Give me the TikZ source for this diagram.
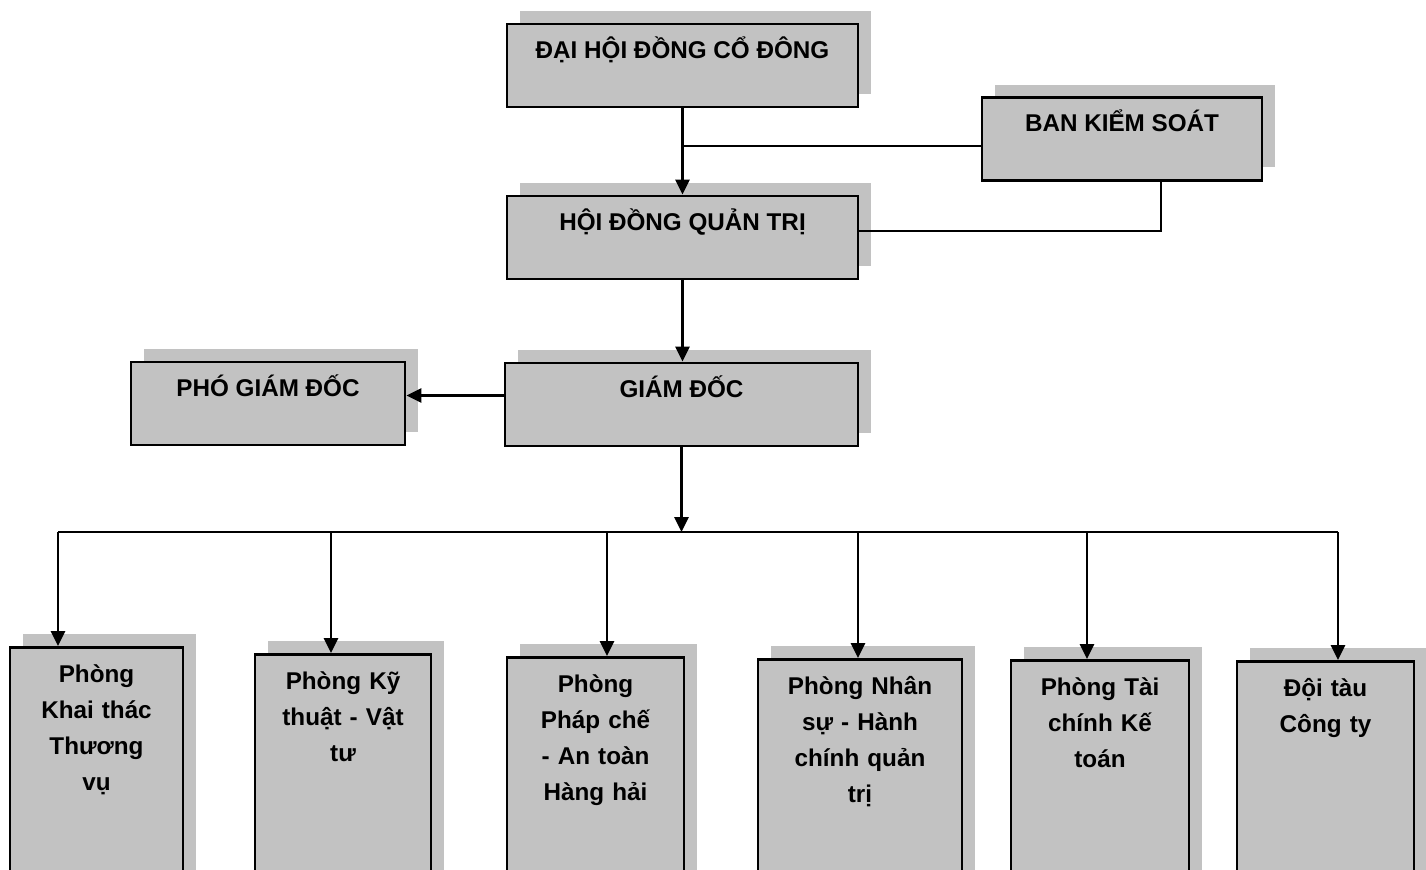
\documentclass[tikz,border=0pt]{standalone}
\usepackage{fontspec}
\setmainfont{Liberation Sans}
\usepackage{xcolor}
\usetikzlibrary{arrows.meta,shadows}

\definecolor{boxgray}{gray}{0.76}

\tikzset{
  box/.style={draw, line width=1.6pt, fill=boxgray, inner xsep=0pt, inner ysep=0pt,
    font=\fontsize{13.8}{20.5}\selectfont\bfseries, align=center,
    drop shadow={shadow xshift=0.26cm, shadow yshift=0.26cm, fill=boxgray, opacity=1}},
  topbox/.style={box, text height=0.68cm, text depth=0.98cm},
  deptbox/.style={box, anchor=north, text width=#1, text height=0.7cm, text depth=6cm},
  link/.style={line width=1.6pt},
  arr/.style={link, -{Triangle[length=0.3cm,width=0.28cm]}}
}

\begin{document}
\begin{tikzpicture}[x=0.02cm,y=-0.02cm]
  \useasboundingbox (0,0) rectangle (1426,869);

  % Top of the chart
  \node[topbox, minimum width=7.02cm] (dhcd) at (682.5,65.5) {ĐẠI HỘI ĐỒNG CỔ ĐÔNG};
  \node[topbox, minimum width=5.6cm] (bks) at (1122,139) {BAN KIỂM SOÁT};
  \node[topbox, minimum width=7.02cm] (hdqt) at (682.5,237.5) {HỘI ĐỒNG QUẢN TRỊ};
  \node[topbox, minimum width=7.06cm] (gd) at (681.5,404.5) {GIÁM ĐỐC};
  \node[topbox, minimum width=5.48cm] (pgd) at (268,403.5) {PHÓ GIÁM ĐỐC};

  % Departments
  \node[deptbox=3.46cm] (p1) at (96.5,646) {Phòng\\Khai thác\\Thương\\vụ};
  \node[deptbox=3.52cm] (p2) at (343,653) {Phòng Kỹ\\thuật - Vật\\tư};
  \node[deptbox=3.54cm] (p3) at (595.5,656) {Phòng\\Pháp chế\\- An toàn\\Hàng hải};
  \node[deptbox=4.08cm] (p4) at (860,658) {Phòng Nhân\\sự - Hành\\chính quản\\trị};
  \node[deptbox=3.56cm] (p5) at (1100,659) {Phòng Tài\\chính Kế\\toán};
  \node[deptbox=3.54cm] (p6) at (1325.5,660) {Đội tàu\\Công ty};

  % Links between the boxes
  \coordinate (j1) at (682.5,146);
  \draw[arr] (dhcd.south) -- (hdqt.north);
  \draw[link] (j1) -- (j1 -| bks.west);
  \draw[link] ([xshift=0.78cm]bks.south) |- ([yshift=0.13cm]hdqt.east);
  \draw[arr] (hdqt.south) -- (hdqt.south |- gd.north);
  \draw[arr] ([yshift=0.18cm]gd.west) -- ([yshift=0.18cm]gd.west -| pgd.east);

  % Bus to the departments
  \coordinate (bus) at (682,532);
  \foreach \i/\x in {1/58, 2/331, 3/607, 4/858, 5/1087, 6/1338}
    \coordinate (b\i) at (\x,532);
  \draw[arr] (gd.south) -- (gd.south |- bus);
  \draw[link] (b1) -- (b6);
  \foreach \i in {1,...,6}
    \draw[arr] (b\i) -- (b\i |- p\i.north);
\end{tikzpicture}
\end{document}
